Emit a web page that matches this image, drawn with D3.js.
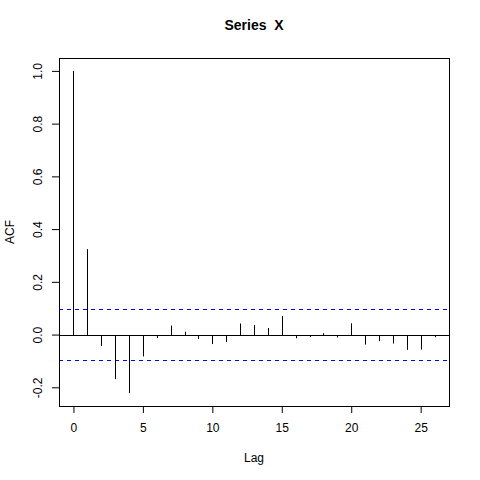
<!DOCTYPE html>
<html>
<head>
<meta charset="utf-8">
<script src="https://cdn.jsdelivr.net/npm/d3@7"></script>
<style>
  body { margin: 0; background: #fff; }
  text { font-family: "Liberation Sans", Arial, sans-serif; }
</style>
</head>
<body>
<div id="chart"></div>
<script>
    // acf values, lag 0..26
    var lags = d3.range(0, 27);
    var acfValues = [1.0, 0.324, -0.043, -0.169, -0.222, -0.083, -0.013, 0.034, 0.011, -0.017,
        -0.036, -0.028, 0.042, 0.036, 0.025, 0.07, -0.014, -0.009, 0.005, -0.011,
        0.043, -0.038, -0.025, -0.034, -0.058, -0.057, -0.01];
    var ciLevel = 0.098;
    var xTicks = [0, 5, 10, 15, 20, 25];
    var yTicks = [-0.2, 0.0, 0.2, 0.4, 0.6, 0.8, 1.0];

    var width = 480, height = 480;
    var plotLeft = 59, plotRight = 449, plotTop = 58, plotBottom = 406;

    var svg = d3.select("#chart").append("svg")
        .attr("width", width)
        .attr("height", height);

    // R pads the data range by 4% on each side
    var yMin = d3.min(acfValues.concat([-ciLevel])), yMax = d3.max(acfValues.concat([ciLevel]));
    var yPad = (yMax - yMin) * 0.04;
    var xPad = (d3.max(lags) - d3.min(lags)) * 0.04;

    var x = d3.scaleLinear().domain([d3.min(lags) - xPad, d3.max(lags) + xPad]).range([plotLeft, plotRight]);
    var y = d3.scaleLinear().domain([yMin - yPad, yMax + yPad]).range([plotBottom, plotTop]);

    // zero line
    svg.append("line")
        .attr("x1", plotLeft).attr("x2", plotRight)
        .attr("y1", Math.round(y(0)) + 0.5).attr("y2", Math.round(y(0)) + 0.5)
        .attr("stroke", "#000").attr("stroke-width", 1);

    // confidence bounds
    [ciLevel, -ciLevel].forEach(function (c) {
        svg.append("line")
            .attr("x1", plotLeft).attr("x2", plotRight)
            .attr("y1", Math.round(y(c)) + 0.5).attr("y2", Math.round(y(c)) + 0.5)
            .attr("stroke", "#0000ff").attr("stroke-width", 1)
            .attr("stroke-dasharray", "4,4");
    });

    // spikes
    svg.append("g").selectAll("line")
        .data(lags)
        .enter().append("line")
        .attr("x1", function (d) { return Math.round(x(d)) + 0.5; })
        .attr("x2", function (d) { return Math.round(x(d)) + 0.5; })
        .attr("y1", Math.round(y(0)) + 0.5)
        .attr("y2", function (d) { return y(acfValues[d]); })
        .attr("stroke", "#000").attr("stroke-width", 1);

    // box
    svg.append("rect")
        .attr("x", plotLeft + 0.5).attr("y", plotTop + 0.5)
        .attr("width", plotRight - plotLeft).attr("height", plotBottom - plotTop)
        .attr("fill", "none").attr("stroke", "#000").attr("stroke-width", 1);

    // x axis
    var xAxis = svg.append("g")
        .attr("transform", "translate(0," + plotBottom + ")")
        .call(d3.axisBottom(x).tickValues(xTicks).tickSize(7).tickPadding(10).tickFormat(d3.format("d")));
    xAxis.select(".domain")
        .attr("d", "M" + x(xTicks[0]) + ",0.5H" + x(xTicks[xTicks.length - 1]));
    xAxis.selectAll("text").attr("font-size", 12).attr("fill", "#000")
        .attr("font-family", "Liberation Sans, Arial, sans-serif");

    // y axis, labels turned like R's las=0; plain hyphen minus like R
    var yFmt = function (d) { return d.toFixed(1); };
    var yAxis = svg.append("g")
        .attr("transform", "translate(" + plotLeft + ",0)")
        .call(d3.axisLeft(y).tickValues(yTicks).tickSize(7).tickFormat(yFmt));
    yAxis.select(".domain")
        .attr("d", "M0.5," + y(yTicks[0]) + "V" + y(yTicks[yTicks.length - 1]));
    yAxis.selectAll("text")
        .attr("font-size", 12).attr("fill", "#000")
        .attr("font-family", "Liberation Sans, Arial, sans-serif")
        .attr("x", null).attr("dy", null)
        .attr("text-anchor", "middle")
        .attr("transform", "translate(-17,0) rotate(-90)");

    // titles
    svg.append("text")
        .attr("x", (plotLeft + plotRight) / 2).attr("y", 30)
        .attr("text-anchor", "middle")
        .attr("font-size", 14).attr("font-weight", "bold")
        .style("white-space", "pre")
        .text("Series  X");

    svg.append("text")
        .attr("x", (plotLeft + plotRight) / 2).attr("y", 462)
        .attr("text-anchor", "middle")
        .attr("font-size", 12)
        .text("Lag");

    svg.append("text")
        .attr("transform", "translate(14," + ((plotTop + plotBottom) / 2) + ") rotate(-90)")
        .attr("text-anchor", "middle")
        .attr("font-size", 12)
        .text("ACF");
</script>
</body>
</html>
